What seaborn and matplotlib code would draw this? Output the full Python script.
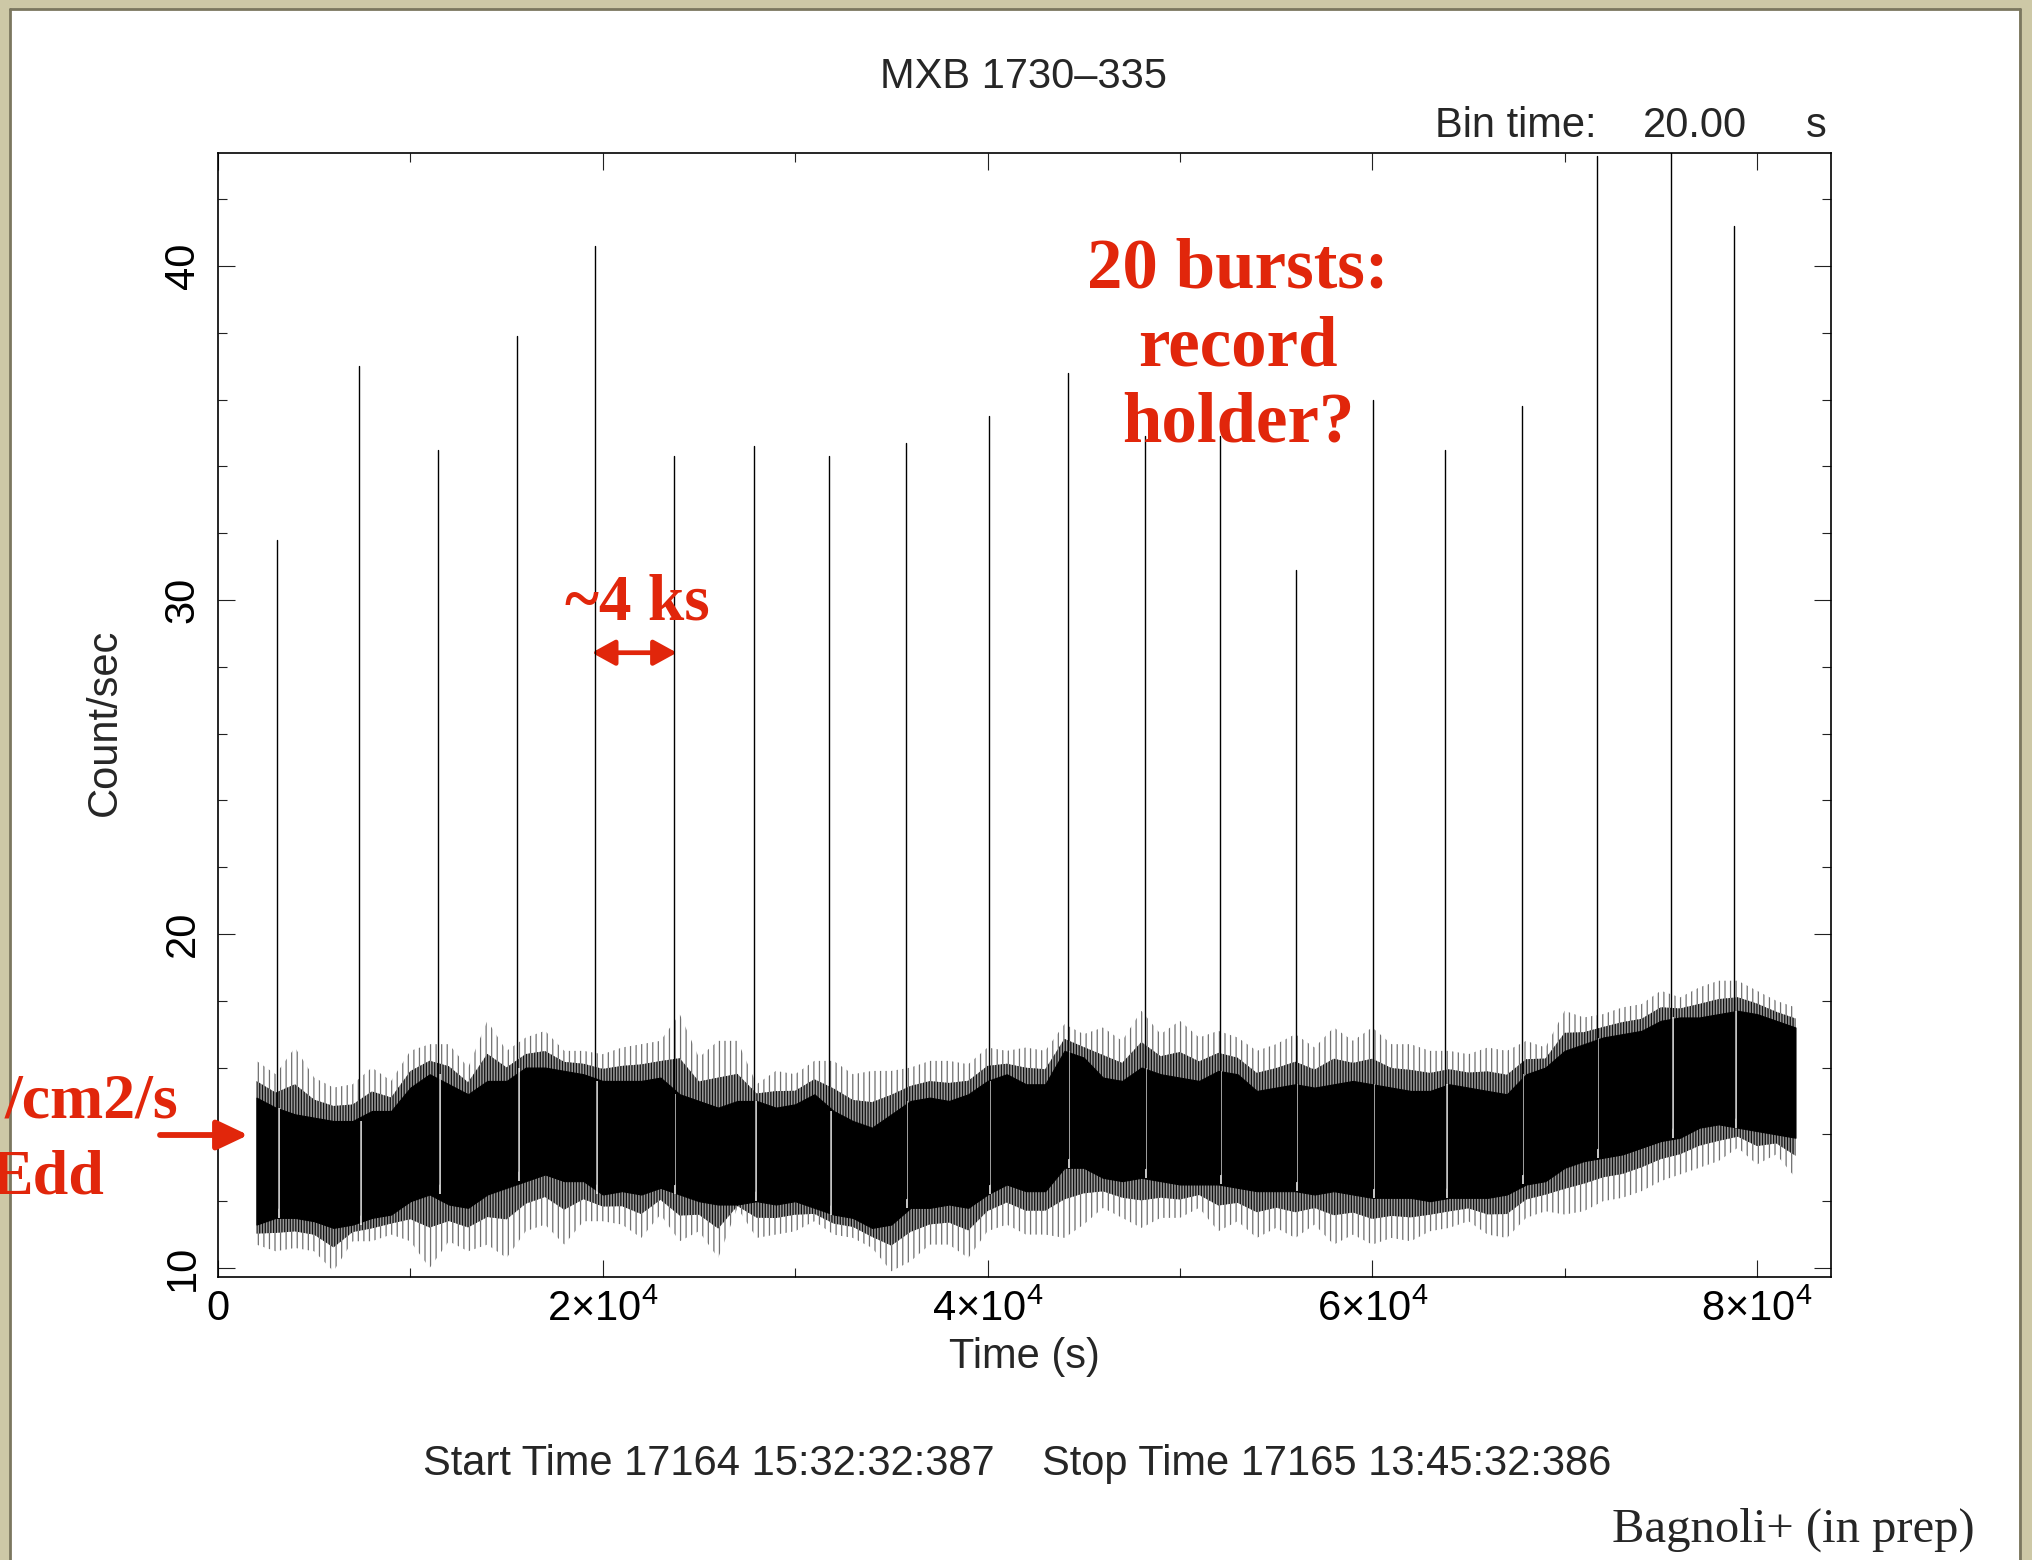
import numpy as np
import pandas as pd
import matplotlib
matplotlib.use("Agg")
import matplotlib.pyplot as plt
from matplotlib.patches import Rectangle
from matplotlib.lines import Line2D
from matplotlib.ticker import FixedLocator, MultipleLocator
import seaborn as sns

# Persistent emission of MXB 1730-335, summarised every 1 ks (2 ks .. 82 ks):
# dense core of the 20 s light curve and the extent of its noise excursions.
time_ks = list(range(2, 83))
core_hi = [15.1, 14.8, 14.6, 14.5, 14.4, 14.4, 14.7, 14.7, 15.4, 15.8,
           15.5, 15.2, 15.6, 15.6, 16.0, 16.0, 15.9, 15.8, 15.6, 15.6,
           15.6, 15.7, 15.2, 15.0, 14.8, 15.0, 15.0, 14.8, 14.9, 15.2,
           14.7, 14.4, 14.2, 14.6, 15.0, 15.1, 15.0, 15.2, 15.6, 15.8,
           15.5, 15.5, 16.5, 16.3, 15.7, 15.6, 16.0, 15.8, 15.7, 15.6,
           15.9, 15.8, 15.3, 15.4, 15.5, 15.4, 15.5, 15.6, 15.5, 15.4,
           15.3, 15.3, 15.5, 15.4, 15.3, 15.2, 15.8, 16.0, 16.5, 16.7,
           16.9, 17.0, 17.1, 17.4, 17.5, 17.5, 17.6, 17.7, 17.6, 17.4,
           17.2]
core_lo = [11.3, 11.5, 11.5, 11.4, 11.2, 11.3, 11.5, 11.6, 12.0, 12.2,
           11.9, 11.8, 12.2, 12.4, 12.6, 12.8, 12.6, 12.6, 12.2, 12.3,
           12.2, 12.4, 12.2, 12.0, 11.9, 11.9, 12.0, 11.9, 12.0, 11.8,
           11.6, 11.5, 11.2, 11.3, 11.8, 11.8, 11.9, 11.8, 12.2, 12.5,
           12.3, 12.3, 13.0, 13.0, 12.7, 12.6, 12.7, 12.6, 12.5, 12.5,
           12.5, 12.4, 12.3, 12.3, 12.3, 12.2, 12.3, 12.2, 12.1, 12.1,
           12.1, 12.0, 12.1, 12.1, 12.1, 12.2, 12.5, 12.6, 13.0, 13.2,
           13.3, 13.4, 13.6, 13.8, 13.9, 14.2, 14.3, 14.2, 14.1, 14.0,
           13.9]
noise_hi = [16.2, 15.8, 16.6, 15.7, 15.4, 15.5, 16.0, 15.6, 16.5, 16.7,
            16.7, 16.0, 17.4, 16.5, 16.9, 17.1, 16.5, 16.5, 16.4, 16.6,
            16.7, 16.8, 17.6, 16.3, 16.8, 16.8, 15.5, 15.9, 15.8, 16.2,
            16.2, 15.8, 15.9, 15.9, 16.0, 16.2, 16.2, 16.1, 16.6, 16.5,
            16.6, 16.5, 17.3, 17.0, 17.2, 16.8, 17.7, 17.0, 17.4, 16.9,
            17.1, 16.9, 16.5, 16.7, 17.0, 16.6, 17.2, 16.8, 17.2, 16.7,
            16.7, 16.5, 16.5, 16.4, 16.6, 16.5, 16.8, 16.6, 17.7, 17.5,
            17.6, 17.8, 17.9, 18.3, 18.1, 18.4, 18.6, 18.6, 18.3, 18.0,
            17.8]
noise_lo = [10.7, 10.5, 10.6, 10.5, 9.9, 10.8, 10.8, 11.0, 10.8, 10.0,
            10.8, 10.5, 10.7, 10.3, 11.1, 11.3, 10.7, 11.4, 11.4, 11.3,
            10.9, 11.6, 10.8, 11.1, 10.3, 11.8, 10.9, 11.0, 11.1, 11.4,
            11.0, 10.9, 10.6, 9.9, 10.2, 10.7, 10.7, 10.3, 11.1, 11.3,
            11.0, 11.0, 10.9, 11.3, 11.8, 11.5, 11.2, 11.5, 11.5, 11.8,
            11.1, 11.4, 10.9, 11.2, 10.9, 11.3, 10.7, 11.0, 10.7, 10.9,
            10.8, 11.1, 11.2, 11.4, 11.0, 10.9, 11.5, 11.7, 11.6, 11.7,
            12.0, 12.1, 12.3, 12.6, 12.8, 13.0, 13.2, 13.6, 13.1, 13.4,
            12.7]

# Type I X-ray bursts: onset time (s) and peak rate (count/s)
burst_time = [3090, 7330, 11440, 15560, 19600, 23700, 27880, 31770, 35760, 40070,
              44180, 48180, 52080, 56030, 60030, 63780, 67780, 71680, 75530, 78810]
burst_peak = [31.8, 37.0, 34.5, 37.9, 40.6, 34.3, 34.6, 34.3, 34.7, 35.5,
              36.8, 34.9, 34.9, 30.9, 36.0, 34.5, 35.8, 43.3, 43.6, 41.2]

x_ticks = [0, 20000, 40000, 60000, 80000]
x_tick_labels = ["0", "2×10$^{4}$", "4×10$^{4}$", "6×10$^{4}$", "8×10$^{4}$"]
y_ticks = [10, 20, 30, 40]
y_tick_labels = ["10", "20", "30", "40"]

W, H = 2033, 1560
RED = "#e1260b"

sns.set_theme(style="ticks")
plt.rcParams["font.family"] = ["Liberation Sans", "DejaVu Sans"]
plt.rcParams["mathtext.fontset"] = "custom"
plt.rcParams["mathtext.rm"] = "Liberation Sans"
plt.rcParams["mathtext.it"] = "Liberation Sans:italic"
plt.rcParams["mathtext.bf"] = "Liberation Sans:bold"
plt.rcParams["hatch.linewidth"] = 0.9

fig = plt.figure(figsize=(W / 100, H / 100), dpi=100, facecolor="#cdc8a6")


def fx(px):
    return px / W


def fy(py):
    return 1 - py / H


# white slide panel with a thin dark rim
fig.patches.append(Rectangle((fx(11), 0), fx(2019) - fx(11), fy(10),
                             transform=fig.transFigure, facecolor="white",
                             edgecolor="none", zorder=-1))
rim = dict(color="#7b775f", lw=2.0, transform=fig.transFigure)
fig.add_artist(Line2D([fx(10), fx(10)], [0, fy(9)], **rim))
fig.add_artist(Line2D([fx(10), fx(2020)], [fy(9), fy(9)], **rim))
fig.add_artist(Line2D([fx(2020), fx(2020)], [0, fy(9)], **rim))

ax = fig.add_axes([fx(218), fy(1277), fx(1831) - fx(218), fy(153) - fy(1277)])
ax.set_facecolor("none")

t = np.array(time_ks, dtype=float) * 1000.0
c_lo = np.array(core_lo)
c_hi = np.array(core_hi)
n_lo = np.array(noise_lo)
n_hi = np.array(noise_hi)

# persistent emission: sparse outer excursions, denser inner fringe, solid core
ax.fill_between(t, n_lo, n_hi, facecolor="white", edgecolor="#707070",
                hatch="|||", lw=0, zorder=1)
inner_lo = c_lo - 0.45 * (c_lo - n_lo)
inner_hi = c_hi + 0.45 * (n_hi - c_hi)
ax.fill_between(t, inner_lo, inner_hi, facecolor="#9a9a9a", edgecolor="#111111",
                hatch="||||||", lw=0, zorder=1.5)
ax.fill_between(t, c_lo, c_hi, color="black", lw=0.8, zorder=2)

# bursts rise out of the persistent level
bt = np.array(burst_time, dtype=float)
idx = np.clip(np.round(bt / 1000).astype(int) - time_ks[0], 0, len(t) - 1)
base = c_lo[idx] + 0.3
ax.vlines(bt + 80, c_lo[idx], c_hi[idx], color="white", lw=1.1, zorder=3)

bursts = pd.DataFrame({
    "burst": np.repeat(np.arange(len(bt)), 2),
    "time": np.repeat(bt, 2),
    "rate": np.column_stack([base, burst_peak]).ravel(),
})
sns.lineplot(data=bursts, x="time", y="rate", units="burst", estimator=None,
             color="black", lw=1.0, ax=ax, legend=False, zorder=4)

ax.set_xlim(0, 83846)
ax.set_ylim(9.73, 43.38)
ax.set_xlabel("")
ax.set_ylabel("")
ax.xaxis.set_major_locator(FixedLocator(x_ticks))
ax.set_xticklabels(x_tick_labels)
ax.xaxis.set_minor_locator(MultipleLocator(10000))
ax.yaxis.set_major_locator(FixedLocator(y_ticks))
ax.set_yticklabels(y_tick_labels, rotation=90, va="center")
ax.yaxis.set_minor_locator(MultipleLocator(2))
ax.tick_params(which="both", direction="in", top=True, right=True,
               color="#222222", labelcolor="black")
ax.tick_params(which="major", length=12.2, width=0.8, labelsize=30)
ax.tick_params(which="minor", length=6.5, width=0.8)
ax.tick_params(axis="x", which="major", pad=9)
ax.tick_params(axis="y", which="major", pad=11)
for s in ax.spines.values():
    s.set_linewidth(1.2)
    s.set_color("black")

# header / footer text
fig.text(fx(1024), fy(88), "MXB 1730–335", ha="center", va="baseline", fontsize=30)
fig.text(fx(1435), fy(137), "Bin time:", ha="left", va="baseline", fontsize=30)
fig.text(fx(1643), fy(137), "20.00", ha="left", va="baseline", fontsize=30)
fig.text(fx(1806), fy(137), "s", ha="left", va="baseline", fontsize=30)
fig.text(fx(1024), fy(1368), "Time (s)", ha="center", va="baseline", fontsize=30)
fig.text(fx(105), fy(722), "Count/sec", rotation=90, ha="center", va="center", fontsize=30)
fig.text(fx(423), fy(1475), "Start Time 17164 15:32:32:387", ha="left", va="baseline", fontsize=30)
fig.text(fx(1042), fy(1475), "Stop Time 17165 13:45:32:386", ha="left", va="baseline", fontsize=30)
fig.text(fx(1975), fy(1542), "Bagnoli+ (in prep)", ha="right", va="baseline",
         fontsize=35, family=["Liberation Serif", "DejaVu Serif"])

# red slide annotations
serif_b = dict(family=["Liberation Serif", "DejaVu Serif"], fontweight="bold", color=RED)
fig.text(fx(1238), fy(288), "20 bursts:", ha="center", va="baseline", fontsize=51, **serif_b)
fig.text(fx(1238), fy(365), "record", ha="center", va="baseline", fontsize=51, **serif_b)
fig.text(fx(1238), fy(442), "holder?", ha="center", va="baseline", fontsize=51, **serif_b)
fig.text(fx(637), fy(620), "~4 ks", ha="center", va="baseline", fontsize=47, **serif_b)
ax.annotate("", xy=(23850, 28.42), xytext=(19430, 28.42),
            arrowprops=dict(arrowstyle="<|-|>,head_length=1.0,head_width=0.55",
                            mutation_scale=14, color=RED, lw=3.4,
                            shrinkA=0, shrinkB=0))
fig.text(fx(178), fy(1117), "/cm2/s", ha="right", va="baseline", fontsize=46, **serif_b)
fig.text(fx(105), fy(1193), "Edd", ha="right", va="baseline", fontsize=46, **serif_b)
ax.annotate("", xy=(1570, 13.98), xycoords="data",
            xytext=(fx(160), fy(1135)), textcoords="figure fraction",
            arrowprops=dict(arrowstyle="-|>,head_length=0.95,head_width=0.45",
                            mutation_scale=20, color=RED, lw=4.2,
                            shrinkA=0, shrinkB=0),
            annotation_clip=False)

fig.savefig("out.png", dpi=100, facecolor=fig.get_facecolor())
